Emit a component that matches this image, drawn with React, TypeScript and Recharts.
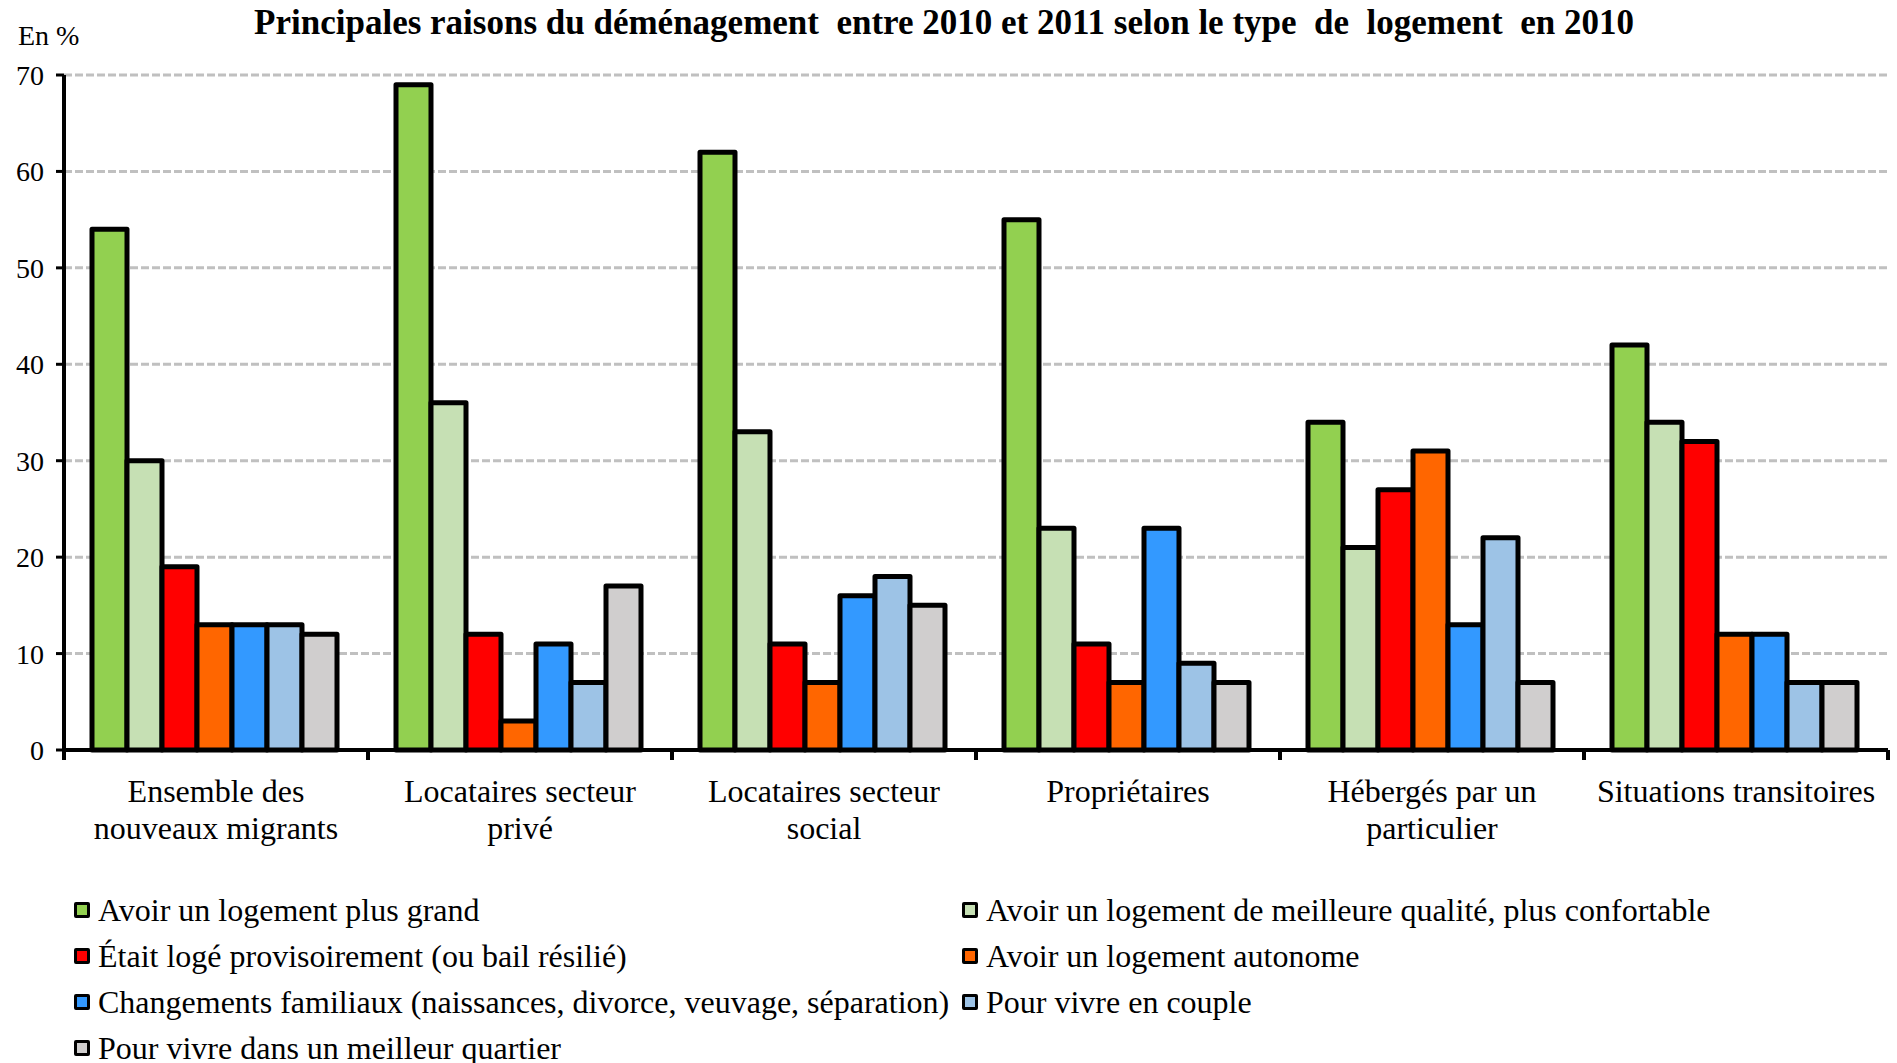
import React from "react";
import { BarChart, Bar, XAxis, YAxis, CartesianGrid } from "recharts";

// categories (line breaks as in the original figure)
const categories = [
  "Ensemble des\nnouveaux migrants",
  "Locataires secteur\nprivé",
  "Locataires secteur\nsocial",
  "Propriétaires",
  "Hébergés par un\nparticulier",
  "Situations transitoires",
];

// values in %, one array per reason
const plusGrand = [54, 69, 62, 55, 34, 42];
const meilleureQualite = [30, 36, 33, 23, 21, 34];
const logeProvisoirement = [19, 12, 11, 11, 27, 32];
const logementAutonome = [13, 3, 7, 7, 31, 12];
const changementsFamiliaux = [13, 11, 16, 23, 13, 12];
const vivreEnCouple = [13, 7, 18, 9, 22, 7];
const meilleurQuartier = [12, 17, 15, 7, 7, 7];

const yTicks = [0, 10, 20, 30, 40, 50, 60, 70];

const seriesNames = [
  "Avoir un logement plus grand",
  "Avoir un logement de meilleure qualité, plus confortable",
  "Était logé provisoirement (ou bail résilié)",
  "Avoir un logement autonome",
  "Changements familiaux (naissances, divorce, veuvage, séparation)",
  "Pour vivre en couple",
  "Pour vivre dans un meilleur quartier",
];
const seriesValues = [
  plusGrand,
  meilleureQualite,
  logeProvisoirement,
  logementAutonome,
  changementsFamiliaux,
  vivreEnCouple,
  meilleurQuartier,
];
const seriesColors = ["#92d050", "#c6e0b4", "#ff0000", "#ff6600", "#3399ff", "#9dc3e6", "#d0cece"];

const FONT = '"Liberation Serif", "Times New Roman", serif';

const data = categories.map((category, i) => {
  const row: any = { category };
  seriesValues.forEach((vals, s) => {
    row["s" + s] = vals[i];
  });
  return row;
});

// category label plus a tick mark on the band boundaries
const CategoryTick = (props: any) => {
  const { x, y, payload, index } = props;
  const half = payload && payload.offset ? payload.offset : 152;
  const lines = String(payload.value).split("\n");
  return (
    <g>
      {index === 0 && (
        <line x1={x - half} x2={x - half} y1={y} y2={y + 10} stroke="#000" strokeWidth={4} />
      )}
      <line x1={x + half} x2={x + half} y1={y} y2={y + 10} stroke="#000" strokeWidth={4} />
      <text x={x} y={y + 52} textAnchor="middle" fontFamily={FONT} fontSize={32} fill="#000">
        {lines.map((l, i) => (
          <tspan key={i} x={x} dy={i === 0 ? 0 : 37}>
            {l}
          </tspan>
        ))}
      </text>
    </g>
  );
};

export default function App() {
  return (
    <div
      style={{
        position: "absolute",
        left: 0,
        top: 0,
        width: 1897,
        height: 1063,
        background: "#fff",
        fontFamily: FONT,
        color: "#000",
      }}
    >
      <div
        style={{
          position: "absolute",
          left: 0,
          width: 1888,
          top: 3,
          textAlign: "center",
          fontWeight: "bold",
          fontSize: 35,
          whiteSpace: "pre",
        }}
      >
        {"Principales raisons du déménagement  entre 2010 et 2011 selon le type  de  logement  en 2010"}
      </div>
      <div style={{ position: "absolute", left: 18, top: 20, fontSize: 28 }}>En %</div>

      <BarChart
        width={1897}
        height={1063}
        data={data}
        margin={{ top: 75, right: 9, left: 0, bottom: 213 }}
        barCategoryGap={28}
        barGap={0}
      >
        <CartesianGrid vertical={false} stroke="#c0c0c0" strokeDasharray="8 3" strokeWidth={3} />
        <XAxis
          dataKey="category"
          height={100}
          interval={0}
          tickLine={false}
          tickSize={0}
          tickMargin={0}
          axisLine={{ stroke: "#000", strokeWidth: 4 }}
          tick={<CategoryTick />}
        />
        <YAxis
          width={64}
          domain={[0, 70]}
          ticks={yTicks}
          interval={0}
          tickSize={8}
          tickMargin={12}
          axisLine={{ stroke: "#000", strokeWidth: 4 }}
          tickLine={{ stroke: "#000", strokeWidth: 3 }}
          tick={{ fill: "#000", fontSize: 28, fontFamily: FONT }}
        />
        {seriesNames.map((name, s) => (
          <Bar
            key={name}
            dataKey={"s" + s}
            name={name}
            fill={seriesColors[s]}
            stroke="#000"
            strokeWidth={5}
            strokeLinejoin="round"
            isAnimationActive={false}
          />
        ))}
      </BarChart>

      {/* legend, two columns */}
      <div
        style={{
          position: "absolute",
          left: 74,
          top: 887,
          display: "grid",
          gridTemplateColumns: "888px auto",
          gridAutoRows: "46px",
          fontSize: 32,
        }}
      >
        {seriesNames.map((name, s) => (
          <div key={name} style={{ display: "flex", alignItems: "center", whiteSpace: "nowrap" }}>
            <span
              style={{
                display: "inline-block",
                width: 10,
                height: 10,
                border: "3px solid #000",
                borderRadius: 2,
                background: seriesColors[s],
                marginRight: 8,
              }}
            />
            {name}
          </div>
        ))}
      </div>
    </div>
  );
}
